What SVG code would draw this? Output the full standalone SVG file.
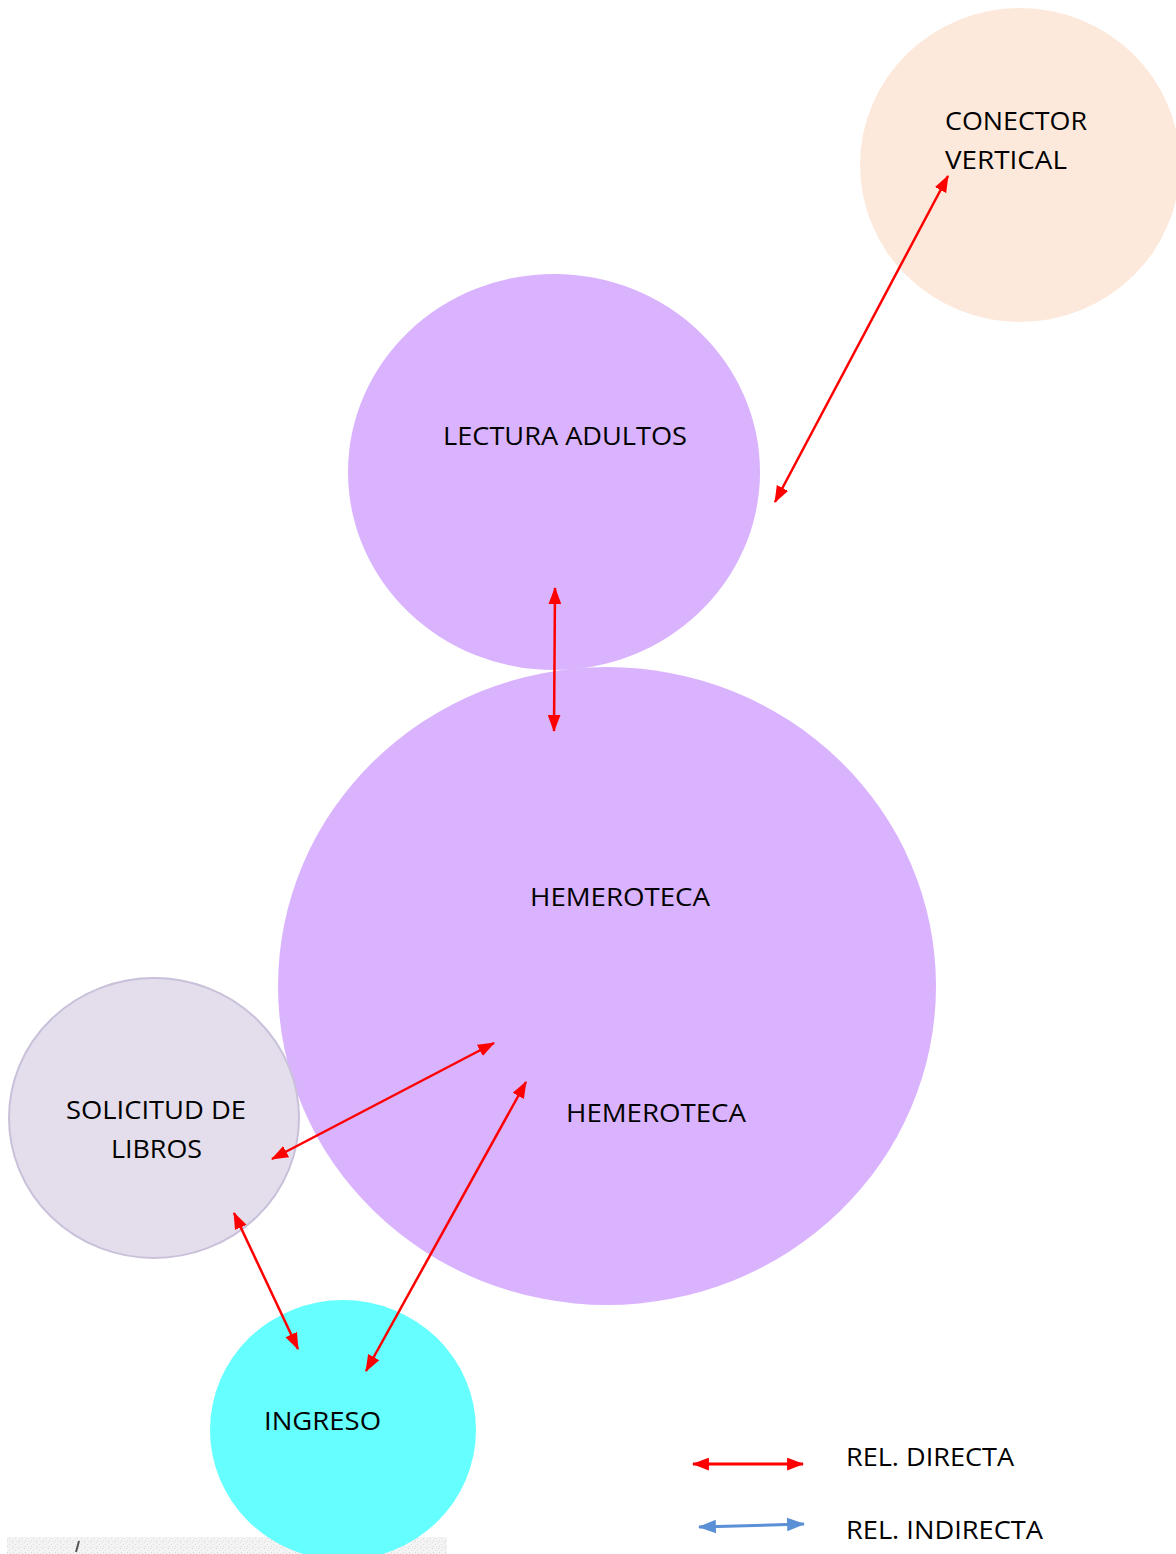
<svg xmlns="http://www.w3.org/2000/svg" width="1176" height="1554" viewBox="0 0 1176 1554">
<style>
  .lbl { font-family: "Open Sans", "Noto Sans", sans-serif; font-size: 26px; fill: #000; }
  .rel { stroke: #FF0000; stroke-width: 2.5; fill: none; marker-start: url(#ahR); marker-end: url(#ahR); }
  .ind { stroke: #5B8FD6; stroke-width: 3; fill: none; marker-start: url(#ahB); marker-end: url(#ahB); }
</style>
<defs>
  <marker id="ahR" viewBox="0 0 16 12" refX="15" refY="6" markerWidth="17" markerHeight="13" markerUnits="userSpaceOnUse" orient="auto-start-reverse">
    <path d="M0,0 L16,6 L0,12 z" fill="#FF0000"/>
  </marker>
  <marker id="ahB" viewBox="0 0 16 12" refX="15" refY="6" markerWidth="18" markerHeight="14" markerUnits="userSpaceOnUse" orient="auto-start-reverse">
    <path d="M0,0 L16,6 L0,12 z" fill="#5B8FD6"/>
  </marker>
  <pattern id="noise" width="6" height="6" patternUnits="userSpaceOnUse">
    <rect width="6" height="6" fill="#f4f4f4"/>
    <rect x="0" y="0" width="1" height="1" fill="#d8d8d8"/>
    <rect x="3" y="2" width="1" height="1" fill="#dcdcdc"/>
    <rect x="1" y="4" width="1" height="1" fill="#d4d4d4"/>
    <rect x="4" y="5" width="1" height="1" fill="#e0e0e0"/>
  </pattern>
</defs>
<rect width="1176" height="1554" fill="#FFFFFF"/>
<rect x="7" y="1537" width="440" height="17" fill="url(#noise)"/>
<path d="M79,1541 L76,1552" stroke="#555" stroke-width="2"/>

<g id="node-conector">
  <ellipse cx="1020" cy="165" rx="160" ry="157" fill="#FDE9DB"/>
  <text class="lbl" x="945" y="130" textLength="142" lengthAdjust="spacingAndGlyphs">CONECTOR</text>
  <text class="lbl" x="945" y="169" textLength="122" lengthAdjust="spacingAndGlyphs">VERTICAL</text>
</g>
<g id="node-lectura">
  <ellipse cx="554" cy="472" rx="206" ry="198" fill="#DAB3FE"/>
  <text class="lbl" x="443" y="445" textLength="244" lengthAdjust="spacingAndGlyphs">LECTURA ADULTOS</text>
</g>
<g id="node-hemeroteca">
  <ellipse cx="607" cy="986" rx="329" ry="319" fill="#DAB3FE"/>
  <text class="lbl" x="530" y="906" textLength="180" lengthAdjust="spacingAndGlyphs">HEMEROTECA</text>
  <text class="lbl" x="566" y="1122" textLength="180" lengthAdjust="spacingAndGlyphs">HEMEROTECA</text>
</g>
<g id="node-solicitud">
  <ellipse cx="154" cy="1118" rx="145" ry="140" fill="#E4DEEC" stroke="#C9C0DA" stroke-width="2"/>
  <text class="lbl" x="66" y="1119" textLength="180" lengthAdjust="spacingAndGlyphs">SOLICITUD DE</text>
  <text class="lbl" x="111" y="1158" textLength="91" lengthAdjust="spacingAndGlyphs">LIBROS</text>
</g>
<g id="node-ingreso">
  <ellipse cx="343" cy="1430" rx="133" ry="130" fill="#66FFFF"/>
  <text class="lbl" x="264" y="1430" textLength="117" lengthAdjust="spacingAndGlyphs">INGRESO</text>
</g>

<g id="connectors">
  <line class="rel" x1="775" y1="502" x2="948" y2="176"/>
  <line class="rel" x1="555" y1="588" x2="554" y2="731"/>
  <line class="rel" x1="272" y1="1159" x2="494" y2="1043"/>
  <line class="rel" x1="234" y1="1213" x2="298" y2="1349"/>
  <line class="rel" x1="366" y1="1371" x2="526" y2="1082"/>
</g>

<g id="legend">
  <line class="rel" x1="693" y1="1464" x2="803" y2="1464" style="stroke-width:3"/>
  <text class="lbl" x="846" y="1466" textLength="168" lengthAdjust="spacingAndGlyphs">REL. DIRECTA</text>
  <line class="ind" x1="699" y1="1527" x2="804" y2="1524"/>
  <text class="lbl" x="846" y="1539" textLength="197" lengthAdjust="spacingAndGlyphs">REL. INDIRECTA</text>
</g>
</svg>
